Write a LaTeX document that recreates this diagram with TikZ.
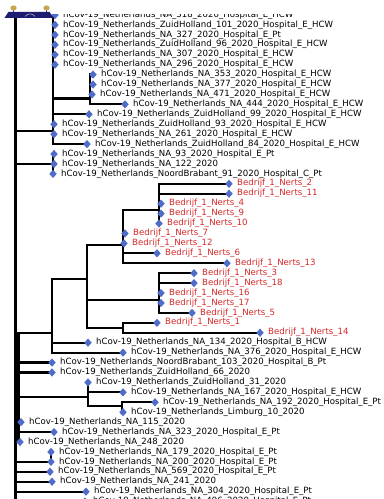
\documentclass[tikz,border=0pt]{standalone}
\usepackage{fontspec}
\setmainfont{DejaVu Sans}
\usetikzlibrary{shapes.geometric,positioning,backgrounds}
\definecolor{tipblue}{RGB}{78,108,200}
\definecolor{minkred}{RGB}{214,40,40}
\definecolor{barnavy}{RGB}{28,28,112}
\definecolor{knobgold}{RGB}{196,168,84}

\begin{document}
\begin{tikzpicture}[
    x=1pt, y=-9.93pt,
    node distance=4pt,
    seqtip/.style={diamond, fill=tipblue, minimum width=7.6pt, minimum height=8.4pt, inner sep=0pt},
    seqname/.style={inner sep=0pt, text height=6.1pt, text depth=1.8pt, font=\fontsize{8.6}{10}\selectfont},
    minkname/.style={seqname, text=minkred},
    branchline/.style={line width=2.2pt}
]
\useasboundingbox (0,-1.5106) rectangle (383,48.741);

% Top clade
\node[seqtip] (na318) at (55,0) {};
\node[seqname, right=of na318] (na318txt) {hCov-19\_Netherlands\_NA\_318\_2020\_Hospital\_E\_HCW};
\node[seqtip] (zh101) at (55,1) {};
\node[seqname, right=of zh101] (zh101txt) {hCov-19\_Netherlands\_ZuidHolland\_101\_2020\_Hospital\_E\_HCW};
\node[seqtip] (na327) at (55,2) {};
\node[seqname, right=of na327] (na327txt) {hCov-19\_Netherlands\_NA\_327\_2020\_Hospital\_E\_Pt};
\node[seqtip] (zh96) at (55,3) {};
\node[seqname, right=of zh96] (zh96txt) {hCov-19\_Netherlands\_ZuidHolland\_96\_2020\_Hospital\_E\_HCW};
\node[seqtip] (na307) at (55,4) {};
\node[seqname, right=of na307] (na307txt) {hCov-19\_Netherlands\_NA\_307\_2020\_Hospital\_E\_HCW};
\node[seqtip] (na296) at (55,5) {};
\node[seqname, right=of na296] (na296txt) {hCov-19\_Netherlands\_NA\_296\_2020\_Hospital\_E\_HCW};
\node[seqtip] (na353) at (93,6) {};
\node[seqname, right=of na353] (na353txt) {hCov-19\_Netherlands\_NA\_353\_2020\_Hospital\_E\_HCW};
\node[seqtip] (na377) at (93,7) {};
\node[seqname, right=of na377] (na377txt) {hCov-19\_Netherlands\_NA\_377\_2020\_Hospital\_E\_HCW};
\node[seqtip] (na471) at (92,8) {};
\node[seqname, right=of na471] (na471txt) {hCov-19\_Netherlands\_NA\_471\_2020\_Hospital\_E\_HCW};
\node[seqtip] (na444) at (125,9) {};
\node[seqname, right=of na444] (na444txt) {hCov-19\_Netherlands\_NA\_444\_2020\_Hospital\_E\_HCW};
\node[seqtip] (zh99) at (89,10) {};
\node[seqname, right=of zh99] (zh99txt) {hCov-19\_Netherlands\_ZuidHolland\_99\_2020\_Hospital\_E\_HCW};
\node[seqtip] (zh93) at (54,11) {};
\node[seqname, right=of zh93] (zh93txt) {hCov-19\_Netherlands\_ZuidHolland\_93\_2020\_Hospital\_E\_HCW};
\node[seqtip] (na261) at (54,12) {};
\node[seqname, right=of na261] (na261txt) {hCov-19\_Netherlands\_NA\_261\_2020\_Hospital\_E\_HCW};
\node[seqtip] (zh84) at (87,13) {};
\node[seqname, right=of zh84] (zh84txt) {hCov-19\_Netherlands\_ZuidHolland\_84\_2020\_Hospital\_E\_HCW};
\node[seqtip] (na93) at (54,14) {};
\node[seqname, right=of na93] (na93txt) {hCov-19\_Netherlands\_NA\_93\_2020\_Hospital\_E\_Pt};
\node[seqtip] (na122) at (54,15) {};
\node[seqname, right=of na122] (na122txt) {hCov-19\_Netherlands\_NA\_122\_2020};
\node[seqtip] (nb91) at (53,16) {};
\node[seqname, right=of nb91] (nb91txt) {hCov-19\_Netherlands\_NoordBrabant\_91\_2020\_Hospital\_C\_Pt};

% Mink clade
\node[seqtip] (nerts2) at (229,17) {};
\node[minkname, right=of nerts2] (nerts2txt) {Bedrijf\_1\_Nerts\_2};
\node[seqtip] (nerts11) at (229,18) {};
\node[minkname, right=of nerts11] (nerts11txt) {Bedrijf\_1\_Nerts\_11};
\node[seqtip] (nerts4) at (161,19) {};
\node[minkname, right=of nerts4] (nerts4txt) {Bedrijf\_1\_Nerts\_4};
\node[seqtip] (nerts9) at (161,20) {};
\node[minkname, right=of nerts9] (nerts9txt) {Bedrijf\_1\_Nerts\_9};
\node[seqtip] (nerts10) at (159,21) {};
\node[minkname, right=of nerts10] (nerts10txt) {Bedrijf\_1\_Nerts\_10};
\node[seqtip] (nerts7) at (125,22) {};
\node[minkname, right=of nerts7] (nerts7txt) {Bedrijf\_1\_Nerts\_7};
\node[seqtip] (nerts12) at (124,23) {};
\node[minkname, right=of nerts12] (nerts12txt) {Bedrijf\_1\_Nerts\_12};
\node[seqtip] (nerts6) at (157,24) {};
\node[minkname, right=of nerts6] (nerts6txt) {Bedrijf\_1\_Nerts\_6};
\node[seqtip] (nerts13) at (227,25) {};
\node[minkname, right=of nerts13] (nerts13txt) {Bedrijf\_1\_Nerts\_13};
\node[seqtip] (nerts3) at (194,26) {};
\node[minkname, right=of nerts3] (nerts3txt) {Bedrijf\_1\_Nerts\_3};
\node[seqtip] (nerts18) at (194,27) {};
\node[minkname, right=of nerts18] (nerts18txt) {Bedrijf\_1\_Nerts\_18};
\node[seqtip] (nerts16) at (161,28) {};
\node[minkname, right=of nerts16] (nerts16txt) {Bedrijf\_1\_Nerts\_16};
\node[seqtip] (nerts17) at (161,29) {};
\node[minkname, right=of nerts17] (nerts17txt) {Bedrijf\_1\_Nerts\_17};
\node[seqtip] (nerts5) at (192,30) {};
\node[minkname, right=of nerts5] (nerts5txt) {Bedrijf\_1\_Nerts\_5};
\node[seqtip] (nerts1) at (157,31) {};
\node[minkname, right=of nerts1] (nerts1txt) {Bedrijf\_1\_Nerts\_1};
\node[seqtip] (nerts14) at (260,32) {};
\node[minkname, right=of nerts14] (nerts14txt) {Bedrijf\_1\_Nerts\_14};

% Lower clades
\node[seqtip] (na134) at (88,33) {};
\node[seqname, right=of na134] (na134txt) {hCov-19\_Netherlands\_NA\_134\_2020\_Hospital\_B\_HCW};
\node[seqtip] (na376) at (123,34) {};
\node[seqname, right=of na376] (na376txt) {hCov-19\_Netherlands\_NA\_376\_2020\_Hospital\_E\_HCW};
\node[seqtip] (nb103) at (52,35) {};
\node[seqname, right=of nb103] (nb103txt) {hCov-19\_Netherlands\_NoordBrabant\_103\_2020\_Hospital\_B\_Pt};
\node[seqtip] (zh66) at (52,36) {};
\node[seqname, right=of zh66] (zh66txt) {hCov-19\_Netherlands\_ZuidHolland\_66\_2020};
\node[seqtip] (zh31) at (88,37) {};
\node[seqname, right=of zh31] (zh31txt) {hCov-19\_Netherlands\_ZuidHolland\_31\_2020};
\node[seqtip] (na167) at (123,38) {};
\node[seqname, right=of na167] (na167txt) {hCov-19\_Netherlands\_NA\_167\_2020\_Hospital\_E\_HCW};
\node[seqtip] (na192) at (155,39) {};
\node[seqname, right=of na192] (na192txt) {hCov-19\_Netherlands\_NA\_192\_2020\_Hospital\_E\_Pt};
\node[seqtip] (lb10) at (123,40) {};
\node[seqname, right=of lb10] (lb10txt) {hCov-19\_Netherlands\_Limburg\_10\_2020};
\node[seqtip] (na115) at (21,41) {};
\node[seqname, right=of na115] (na115txt) {hCov-19\_Netherlands\_NA\_115\_2020};
\node[seqtip] (na323) at (54,42) {};
\node[seqname, right=of na323] (na323txt) {hCov-19\_Netherlands\_NA\_323\_2020\_Hospital\_E\_Pt};
\node[seqtip] (na248) at (20,43) {};
\node[seqname, right=of na248] (na248txt) {hCov-19\_Netherlands\_NA\_248\_2020};
\node[seqtip] (na179) at (51,44) {};
\node[seqname, right=of na179] (na179txt) {hCov-19\_Netherlands\_NA\_179\_2020\_Hospital\_E\_Pt};
\node[seqtip] (na200) at (51,45) {};
\node[seqname, right=of na200] (na200txt) {hCov-19\_Netherlands\_NA\_200\_2020\_Hospital\_E\_Pt};
\node[seqtip] (na569) at (50,46) {};
\node[seqname, right=of na569] (na569txt) {hCov-19\_Netherlands\_NA\_569\_2020\_Hospital\_E\_Pt};
\node[seqtip] (na241) at (52,47) {};
\node[seqname, right=of na241] (na241txt) {hCov-19\_Netherlands\_NA\_241\_2020};
\node[seqtip] (na304) at (86,48) {};
\node[seqname, right=of na304] (na304txt) {hCov-19\_Netherlands\_NA\_304\_2020\_Hospital\_E\_Pt};
\node[seqtip] (na496) at (85,49) {};
\node[seqname, right=of na496] (na496txt) {hCov-19\_Netherlands\_NA\_496\_2020\_Hospital\_E\_Pt};

% Internal nodes
\coordinate (root) at (15.5,0);
\coordinate (cladeA) at (53,11.7);
\coordinate (cladeB) at (90,8.4);
\coordinate (cladeC) at (53,15);
\coordinate (inner) at (18.5,32);
\coordinate (cladeD) at (52,32);
\coordinate (minkL) at (87,26.6);
\coordinate (minkK) at (123,23.2);
\coordinate (minkJ) at (159,19.6);
\coordinate (minkM) at (159,28.7);
\coordinate (minkN) at (123,31.5);
\coordinate (cladeE) at (88,38.5);
\coordinate (cladeF) at (122,39.4);
\coordinate (cladeH) at (51,45);

% Branches
\begin{scope}[on background layer]
\fill[white] (0,-1.5106) rectangle (383,48.741);
\draw[branchline] (root) |- (cladeA) (root) |- (cladeC) (root) |- (inner)
    (root) |- (cladeH) (root) |- (na569.center) (root) |- (na241.center)
    (root) |- (na304.center) (root) |- (na496.center);
\draw[branchline] (cladeA) |- (na318.center) (cladeA) |- (zh101.center)
    (cladeA) |- (na327.center) (cladeA) |- (zh96.center) (cladeA) |- (na307.center)
    (cladeA) |- (na296.center) (cladeA) |- (cladeB) (cladeA) |- (zh99.center)
    (cladeA) |- (zh93.center) (cladeA) |- (na261.center) (cladeA) |- (zh84.center);
\draw[branchline] (cladeB) |- (na353.center) (cladeB) |- (na377.center)
    (cladeB) |- (na471.center) (cladeB) |- (na444.center);
\draw[branchline] (cladeC) |- (na93.center) (cladeC) |- (na122.center)
    (cladeC) |- (nb91.center);
\draw[branchline] (inner) |- (cladeD) (inner) |- (nb103.center) (inner) |- (zh66.center)
    (inner) |- (cladeE) (inner) |- (na115.center) (inner) |- (na323.center)
    (inner) |- (na248.center);
\draw[branchline] (cladeD) |- (minkL) (cladeD) |- (na134.center) (cladeD) |- (na376.center);
\draw[branchline] (minkL) |- (minkK) (minkL) |- (minkM) (minkL) |- (minkN);
\draw[branchline] (minkK) |- (minkJ) (minkK) |- (nerts7.center) (minkK) |- (nerts12.center)
    (minkK) |- (nerts6.center) (minkK) |- (nerts13.center);
\draw[branchline] (minkJ) |- (nerts2.center) (minkJ) |- (nerts11.center)
    (minkJ) |- (nerts4.center) (minkJ) |- (nerts9.center) (minkJ) |- (nerts10.center);
\draw[branchline] (minkM) |- (nerts3.center) (minkM) |- (nerts18.center)
    (minkM) |- (nerts16.center) (minkM) |- (nerts17.center) (minkM) |- (nerts5.center);
\draw[branchline] (minkN) |- (nerts1.center) (minkN) |- (nerts14.center);
\draw[branchline] (cladeE) |- (zh31.center) (cladeE) |- (na167.center) (cladeE) |- (cladeF);
\draw[branchline] (cladeF) |- (na192.center) (cladeF) |- (lb10.center);
\draw[branchline] (cladeH) |- (na179.center) (cladeH) |- (na200.center);
\end{scope}

% Root handle bar
\fill[white] (0,-1.5106) rectangle (383,-0.1);
\begin{scope}[y=-1pt, yshift=15pt]
\fill[barnavy] (4.5,18) -- (8.5,12) -- (49.5,12) -- (53.5,18) -- cycle;
\draw[white!65!barnavy, line width=0.6pt] (25,16.5) .. controls (28,13) and (32,13) .. (35,16.5);
\draw[barnavy, line width=1pt] (13.5,9) -- (13.5,12) (46.5,9) -- (46.5,12);
\fill[knobgold] (13.5,8) ellipse (3.2 and 2.6);
\fill[knobgold] (46.5,8) ellipse (3.2 and 2.6);
\end{scope}

\end{tikzpicture}
\end{document}
